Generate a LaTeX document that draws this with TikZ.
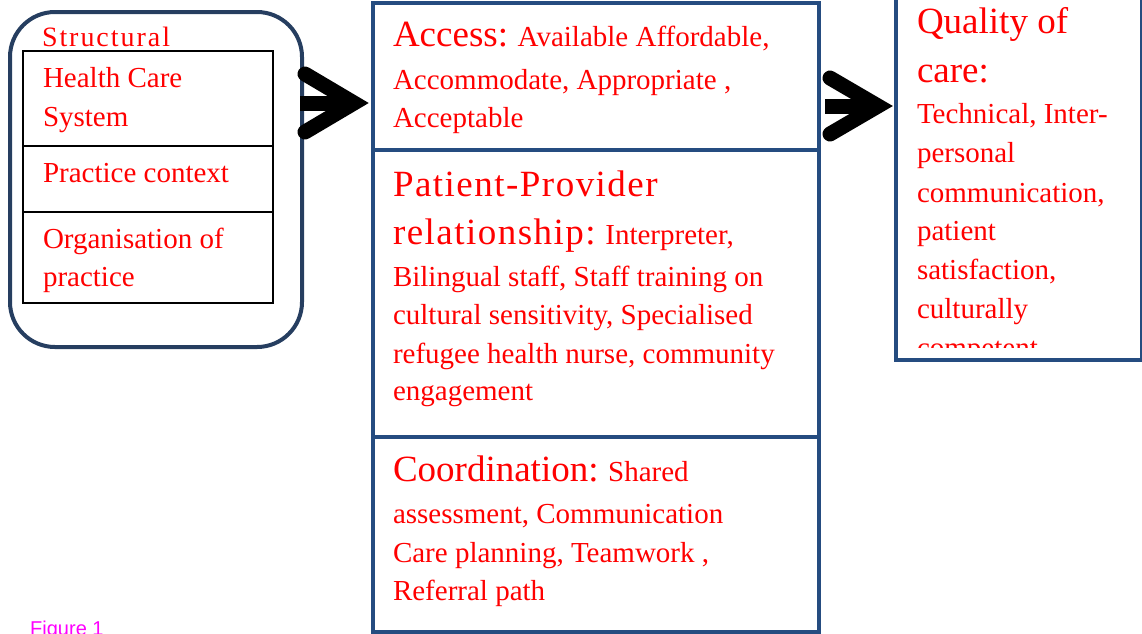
\documentclass[tikz,border=0pt]{standalone}
\usepackage{fontspec}
\setmainfont{Liberation Serif}
\newfontfamily\figfont{Liberation Sans}
\usetikzlibrary{calc}
\definecolor{boxblue}{RGB}{37,76,128}
\definecolor{darkblue}{RGB}{38,62,96}
\definecolor{txtred}{RGB}{255,0,0}
\definecolor{figmag}{RGB}{255,0,255}
\newcommand\Lgsz{\fontsize{37}{40}\selectfont}
\begin{document}
\begin{tikzpicture}[x=1pt,y=-1pt,
 txt/.style={anchor=base west, inner sep=0pt, outer sep=0pt, text=txtred, font=\fontsize{29}{35}\selectfont},
 bluebox/.style={draw=boxblue, line width=4pt, inner sep=0pt, anchor=north west},
 cell/.style={draw=black, line width=1.8pt, inner sep=0pt, anchor=north west, minimum width=250pt},
 chev/.style={line width=15pt, line cap=round, line join=miter},
 chevbar/.style={line width=15pt, line cap=butt}]
\useasboundingbox (0,0) rectangle (1142,633);

% Structural box
\node[draw=darkblue, line width=4pt, rounded corners=45pt, minimum width=292pt, minimum height=335pt, inner sep=0pt, anchor=north west] (struct) at (8,10) {};
\node[cell, minimum height=95pt] (hcs) at (22,50) {};
\node[cell, minimum height=66pt] (pc) at (22,145) {};
\node[cell, minimum height=91pt] (org) at (22,211) {};

\node[txt, font=\fontsize{28}{30}\selectfont\addfontfeature{LetterSpace=7}] (tstruct) at (42,46) {Structural};
\node[txt] (thcs1) at (43,87.5) {Health Care};
\node[txt] (thcs2) at (43,126.5) {System};
\node[txt] (tpc) at (43,182.5) {Practice context};
\node[txt] (torg1) at (43,248) {Organisation of};
\node[txt] (torg2) at (43,286.5) {practice};

% Middle column
\node[bluebox, minimum width=446pt, minimum height=147pt] (access) at (371,1) {};
\node[bluebox, minimum width=446pt, minimum height=287pt] (ppr) at (371,148) {};
\node[bluebox, minimum width=446pt, minimum height=195pt] (coord) at (371,435) {};

\node[txt] (ta1) at (393,46.7) {{\Lgsz Access:} Available Affordable,};
\node[txt] (ta2) at (393,89.3) {Accommodate, Appropriate ,};
\node[txt] (ta3) at (393,127.7) {Acceptable};

\node[txt] (tp1) at (393,196) {{\Lgsz\addfontfeature{LetterSpace=4}Patient-Provider}};
\node[txt] (tp2) at (393,244.3) {{\Lgsz\addfontfeature{LetterSpace=4}relationship:} Interpreter,};
\node[txt] (tp3) at (393,286.7) {Bilingual staff, Staff training on};
\node[txt] (tp4) at (393,324.3) {cultural sensitivity, Specialised};
\node[txt] (tp5) at (393,363.3) {refugee health nurse, community};
\node[txt] (tp6) at (393,400.7) {engagement};

\node[txt] (tc1) at (393,481.7) {{\Lgsz Coordination:} Shared};
\node[txt] (tc2) at (393,523) {assessment, Communication};
\node[txt] (tc3) at (393,562.7) {Care planning, Teamwork ,};
\node[txt] (tc4) at (393,600.7) {Referral path};

% Right box
\node[bluebox, minimum width=246pt, minimum height=368pt] (quality) at (894,-10) {};
\begin{scope}
\clip (894,0) rectangle (1140,347);
\node[txt, font=\Lgsz] (tq1) at (917,33) {Quality of};
\node[txt, font=\Lgsz] (tq2) at (917,82) {care:};
\node[txt] (tq3) at (917,123) {Technical, Inter-};
\node[txt] (tq4) at (917,162) {personal};
\node[txt] (tq5) at (917,202) {communication,};
\node[txt] (tq6) at (917,240) {patient};
\node[txt] (tq7) at (917,279) {satisfaction,};
\node[txt] (tq8) at (917,318) {culturally};
\node[txt] (tq9) at (917,357) {competent};
\end{scope}

% Figure label
\node[anchor=base west, inner sep=0pt, text=figmag, font=\figfont\fontsize{20}{24}\selectfont] (fig) at (30,635) {Figure 1};

% Arrows
\coordinate (tipA) at ($(access.west)+(-2,26.5)$);
\draw[chev] ($(tipA)+(-64,-29)$) -- ($(tipA)+(-15,0)$) -- ($(tipA)+(-64,29)$);
\draw[chevbar] ($(tipA)+(-69,0)$) -- ($(tipA)+(-30,0)$);

\coordinate (tipB) at ($(quality.west)+(-1,-70)$);
\draw[chev] ($(tipB)+(-63,-28)$) -- ($(tipB)+(-15,0)$) -- ($(tipB)+(-63,28)$);
\draw[chevbar] ($(tipB)+(-68,0)$) -- ($(tipB)+(-30,0)$);
\end{tikzpicture}
\end{document}
